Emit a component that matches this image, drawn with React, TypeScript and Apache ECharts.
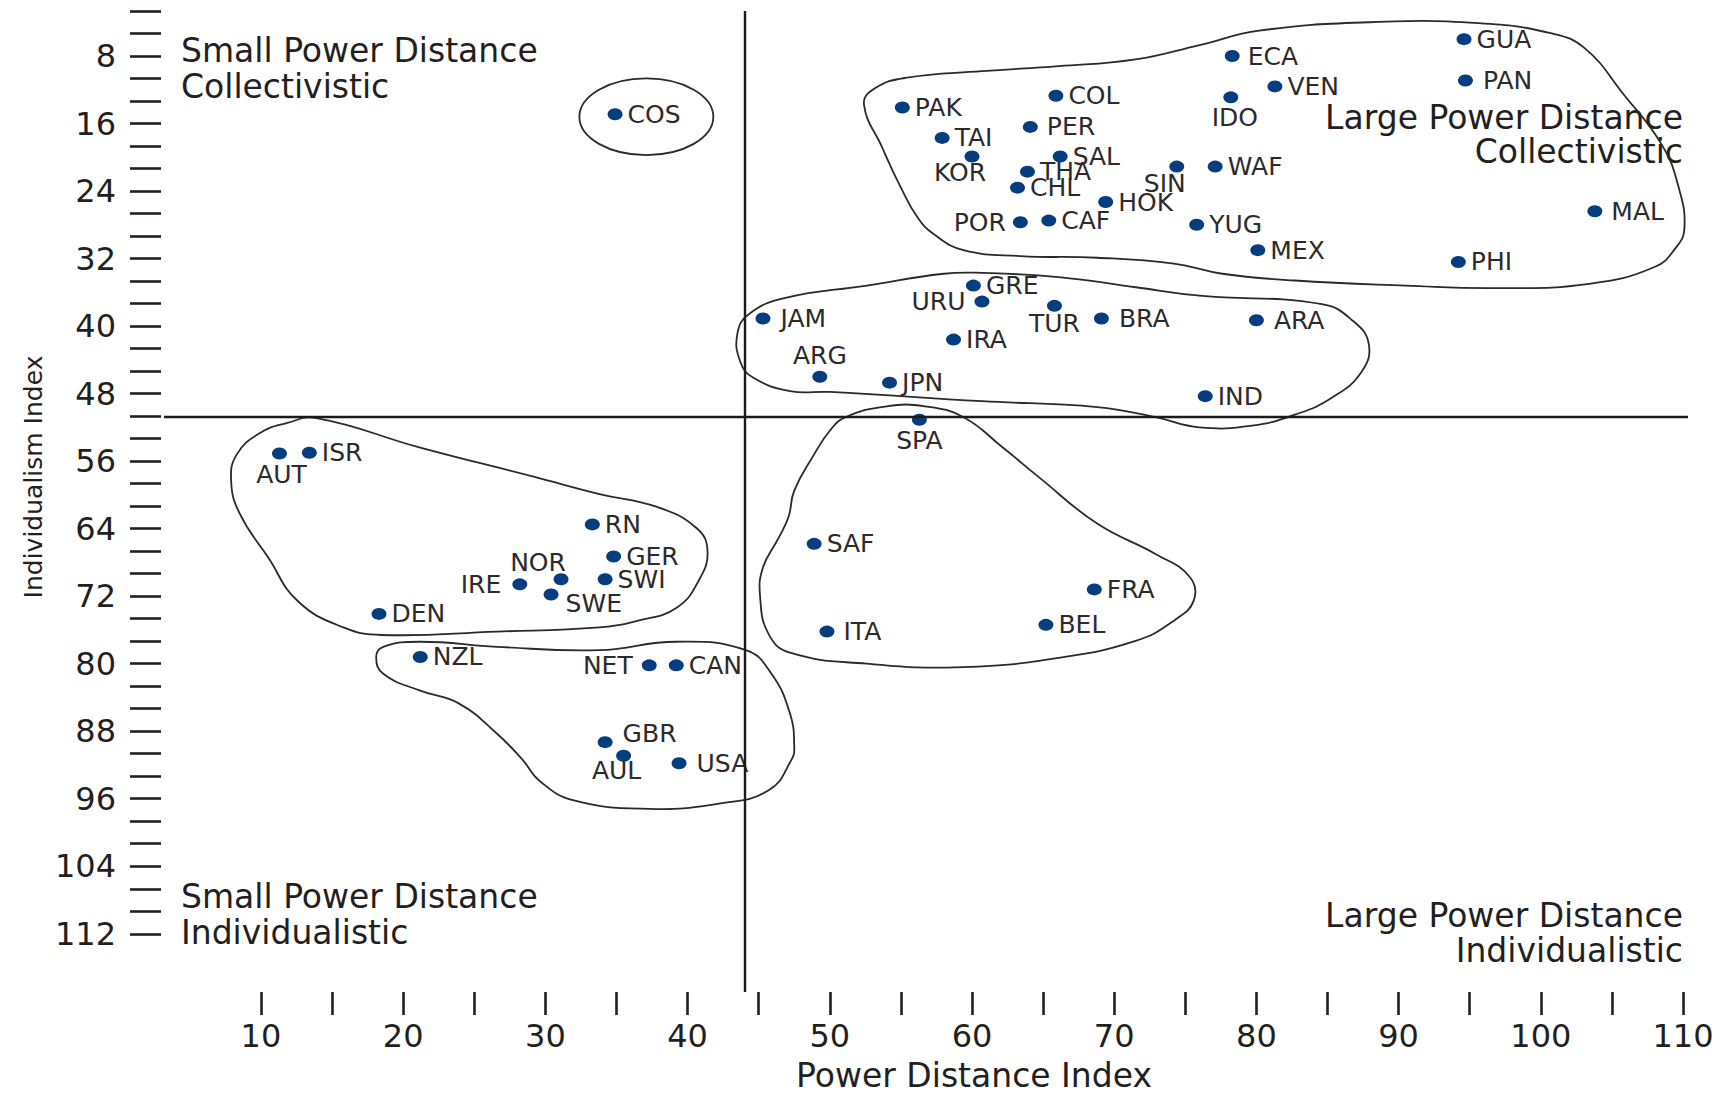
import React, { useEffect, useRef } from "react";
import * as echarts from "echarts";

// ---------- data ----------
const countries = [
  "GUA", "ECA", "PAN", "VEN", "IDO", "COL", "COS", "PAK", "PER", "TAI",
  "KOR", "SAL", "THA", "SIN", "WAF", "CHL", "HOK", "MAL", "POR", "CAF",
  "YUG", "MEX", "PHI", "GRE", "URU", "TUR", "JAM", "BRA", "ARA", "IRA",
  "ARG", "JPN", "IND", "SPA", "AUT", "ISR", "RN", "GER", "NOR", "SWI",
  "IRE", "SWE", "DEN", "FRA", "BEL", "SAF", "ITA", "NZL", "NET", "CAN",
  "GBR", "AUL", "USA",
];
const powerDistance = [
  94.6, 78.3, 94.7, 81.3, 78.2, 65.9, 34.9, 55.1, 64.1, 57.9,
  60.0, 66.2, 63.9, 74.4, 77.1, 63.2, 69.4, 103.8, 63.4, 65.4,
  75.8, 80.1, 94.2, 60.1, 60.7, 65.8, 45.3, 69.1, 80.0, 58.7,
  49.3, 54.2, 76.4, 56.3, 11.3, 13.4, 33.3, 34.8, 31.1, 34.2,
  28.2, 30.4, 18.3, 68.6, 65.2, 48.9, 49.8, 21.2, 37.3, 39.2,
  34.2, 35.5, 39.4,
];
const individualism = [
  6.0, 8.0, 10.9, 11.6, 12.9, 12.7, 14.9, 14.1, 16.4, 17.7,
  19.9, 19.9, 21.7, 21.1, 21.1, 23.6, 25.3, 26.4, 27.7, 27.5,
  28.0, 31.0, 32.4, 35.2, 37.1, 37.6, 39.1, 39.1, 39.3, 41.6,
  46.0, 46.7, 48.3, 51.1, 55.1, 55.0, 63.5, 67.3, 70.0, 70.0,
  70.6, 71.8, 74.1, 71.2, 75.4, 65.8, 76.2, 79.2, 80.2, 80.2,
  89.3, 90.9, 91.8,
];

const xTicks = [10, 15, 20, 25, 30, 35, 40, 45, 50, 55, 60, 65, 70, 75, 80, 85, 90, 95, 100, 105, 110];
const xTickLabels = [10, 20, 30, 40, 50, 60, 70, 80, 90, 100, 110];
const yTickLabels = [8, 16, 24, 32, 40, 48, 56, 64, 72, 80, 88, 96, 104, 112];
const yMinorStep = 8 / 3;
const yTicks = Array.from({ length: 42 }, (_, k) => (k + 1) * yMinorStep);

const quadrantX = 44;
const quadrantY = 50.8;

// group outlines (in index units)
const groupLargePDCollectivist: [number, number][] = [
  [52.4, 13.7], [53.2, 11.8], [55.3, 10.6], [60.7, 9.8], [66.1, 9.2], [71.5, 8.4],
  [76.0, 6.7], [80.2, 5.0], [87.9, 4.0], [95.6, 4.1], [100.7, 5.3], [103.1, 7.1],
  [105.8, 12.5], [108.5, 18.5], [109.7, 23.6], [110.1, 28.4], [109.5, 30.7],
  [108.0, 33.0], [103.4, 35.0], [96.9, 35.5], [90.5, 35.2], [82.7, 34.6],
  [77.6, 33.8], [74.2, 32.6], [68.8, 31.9], [63.4, 31.7], [59.4, 31.0],
  [57.3, 29.1], [56.2, 27.2], [55.0, 23.6], [53.7, 18.9],
];
const groupMiddle: [number, number][] = [
  [44.3, 38.6], [46.8, 36.7], [52.6, 35.2], [58.0, 33.8], [60.7, 33.7], [66.1, 34.2],
  [71.5, 35.4], [76.0, 36.4], [84.6, 37.4], [86.8, 39.4], [87.9, 42.1], [87.4, 45.4],
  [85.3, 48.5], [82.7, 50.5], [79.7, 51.8], [76.0, 52.0], [72.9, 50.8], [68.8, 49.6],
  [60.7, 48.9], [50.0, 47.8], [47.2, 47.7], [44.6, 46.1], [43.7, 44.2], [43.5, 40.9],
];
const groupLatinEurope: [number, number][] = [
  [51.1, 50.8], [54.0, 49.5], [56.7, 49.5], [59.4, 50.8], [62.1, 54.3], [64.7, 57.9],
  [68.8, 63.4], [72.9, 67.0], [75.3, 69.7], [75.6, 72.5], [74.2, 74.9], [71.5, 77.3],
  [66.1, 79.3], [59.4, 80.4], [52.6, 80.0], [47.2, 78.7], [45.7, 76.5], [45.1, 72.1],
  [45.3, 68.6], [46.4, 65.1], [47.1, 62.6], [47.5, 59.5], [48.9, 55.2], [50.0, 52.4],
];
const groupGermanicNordic: [number, number][] = [
  [13.9, 50.9], [21.2, 54.4], [29.3, 57.9], [33.8, 59.9], [37.8, 61.4], [40.6, 63.9],
  [41.4, 66.6], [40.8, 70.1], [39.2, 73.4], [36.5, 74.9], [33.8, 75.7], [26.6, 76.2],
  [18.5, 76.6], [15.8, 75.7], [12.6, 72.6], [10.5, 67.4], [8.5, 62.2], [7.9, 58.3],
  [8.3, 55.2], [9.9, 52.7], [11.8, 51.5],
];
const groupAnglo: [number, number][] = [
  [18.6, 78.0], [21.2, 77.4], [26.6, 78.0], [33.8, 78.4], [39.2, 77.4], [44.1, 78.4],
  [45.9, 81.2], [47.2, 85.9], [47.5, 89.8], [47.3, 91.4], [45.7, 95.0], [42.1, 96.6],
  [37.3, 97.2], [32.0, 96.2], [29.6, 93.9], [28.4, 91.4], [26.6, 88.3], [23.9, 84.7],
  [21.2, 83.2], [18.6, 81.2], [18.1, 79.2],
];
const groupCostaRica = { cx: 37.1, cy: 15.2, rx: 4.71, ry: 4.54 };

const groups = [groupLargePDCollectivist, groupMiddle, groupLatinEurope, groupGermanicNordic, groupAnglo];

// ---------- styles ----------
const FONT = "DejaVu Sans";
const INK = "#231f20";
const DOT = "#063d7e";

type Place = { pos: string; dist?: number; dx?: number; dy?: number };
const labelPlace: Record<string, Place> = {
  IDO: { pos: "bottom", dx: 4, dy: -3 },
  KOR: { pos: "bottom", dx: -12, dy: -7 },
  SIN: { pos: "bottom", dx: -12, dy: -7 },
  TUR: { pos: "bottom", dy: -6 },
  SPA: { pos: "bottom", dy: -3 },
  AUT: { pos: "bottom", dx: 2, dy: -3 },
  AUL: { pos: "bottom", dx: -7, dy: -9 },
  ARG: { pos: "top", dy: 2 },
  NOR: { pos: "top", dx: -23, dy: 7 },
  GBR: { pos: "right", dist: 10, dy: -9 },
  SWE: { pos: "right", dist: 7, dy: 9 },
  POR: { pos: "left", dist: 7 },
  URU: { pos: "left", dist: 9 },
  IRE: { pos: "left", dist: 11 },
  NET: { pos: "left", dist: 9 },
  JAM: { pos: "right", dist: 10 },
  BRA: { pos: "right", dist: 10 },
  ARA: { pos: "right", dist: 10 },
  PAN: { pos: "right", dist: 10 },
  PER: { pos: "right", dist: 9 },
  MAL: { pos: "right", dist: 9 },
  USA: { pos: "right", dist: 10 },
  ITA: { pos: "right", dist: 9 },
  ECA: { pos: "right", dist: 8 },
};

function labelFor(name: string) {
  const p = labelPlace[name] || { pos: "right", dist: 5 };
  return {
    show: true,
    position: p.pos,
    distance: p.dist ?? 5,
    offset: [p.dx ?? 0, p.dy ?? 0],
  };
}

export default function App() {
  const ref = useRef<HTMLDivElement>(null);

  useEffect(() => {
    if (!ref.current) return;
    const chart = echarts.init(ref.current, undefined, { renderer: "svg" });

    const points = countries.map((c, i) => ({
      name: c,
      value: [powerDistance[i], individualism[i]],
      label: labelFor(c),
    }));

    const quadText = (text: string, x: number, y: number, align: string) => ({
      type: "text",
      x,
      y,
      silent: true,
      style: {
        text,
        fill: INK,
        font: `33px "${FONT}"`,
        textAlign: align,
        textVerticalAlign: "middle",
      },
    });

    const option: any = {
      animation: false,
      backgroundColor: "#ffffff",
      textStyle: { fontFamily: FONT },
      grid: {
        left: 164,
        right: 34,
        top: 11,
        bottom: 104,
        containLabel: false,
        outerBoundsMode: "none",
      },
      xAxis: {
        type: "value",
        min: 3.18,
        max: 110.35,
        position: "bottom",
        axisLine: { show: false },
        splitLine: { show: false },
        axisTick: {
          show: true,
          length: 23,
          customValues: xTicks,
          lineStyle: { color: INK, width: 2.6 },
        },
        axisLabel: {
          customValues: xTickLabels,
          margin: 28,
          fontSize: 32,
          color: INK,
          fontFamily: FONT,
        },
      },
      yAxis: {
        type: "value",
        inverse: true,
        min: yMinorStep,
        max: 118.9,
        offset: 3,
        axisLine: { show: false },
        splitLine: { show: false },
        axisTick: {
          show: true,
          length: 31,
          customValues: yTicks,
          lineStyle: { color: INK, width: 2.6 },
        },
        axisLabel: {
          customValues: yTickLabels,
          margin: 45,
          fontSize: 32,
          color: INK,
          fontFamily: FONT,
        },
      },
      graphic: [
        quadText("Small Power Distance", 181, 50, "left"),
        quadText("Collectivistic", 181, 86, "left"),
        quadText("Large Power Distance", 1683, 117, "right"),
        quadText("Collectivistic", 1683, 151, "right"),
        quadText("Small Power Distance", 181, 896, "left"),
        quadText("Individualistic", 181, 932, "left"),
        quadText("Large Power Distance", 1683, 915, "right"),
        quadText("Individualistic", 1683, 950, "right"),
        {
          type: "text",
          x: 974,
          y: 1075,
          silent: true,
          style: {
            text: "Power Distance Index",
            fill: INK,
            font: `33px "${FONT}"`,
            textAlign: "center",
            textVerticalAlign: "middle",
          },
        },
        {
          type: "text",
          x: 33,
          y: 477,
          rotation: Math.PI / 2,
          silent: true,
          style: {
            text: "Individualism Index",
            fill: INK,
            font: `25px "${FONT}"`,
            textAlign: "center",
            textVerticalAlign: "middle",
          },
        },
      ],
      series: [
        {
          type: "custom",
          coordinateSystem: "cartesian2d",
          silent: true,
          z: 1,
          encode: { x: 0, y: 1 },
          data: groups.map((g) => [g[0][0], g[0][1]]),
          renderItem: (params: any, api: any) => {
            const pts = groups[params.dataIndex].map((p) => api.coord(p));
            return {
              type: "polygon",
              shape: { points: pts, smooth: 0.45 },
              style: { fill: "none", stroke: "#2a2a2a", lineWidth: 1.8 },
              silent: true,
            };
          },
        },
        {
          type: "custom",
          coordinateSystem: "cartesian2d",
          silent: true,
          z: 1,
          encode: { x: 0, y: 1 },
          data: [[groupCostaRica.cx, groupCostaRica.cy]],
          renderItem: (params: any, api: any) => {
            const c = api.coord([groupCostaRica.cx, groupCostaRica.cy]);
            const s = api.size([groupCostaRica.rx, groupCostaRica.ry]);
            return {
              type: "ellipse",
              shape: { cx: c[0], cy: c[1], rx: s[0], ry: s[1] },
              style: { fill: "none", stroke: "#2a2a2a", lineWidth: 1.8 },
              silent: true,
            };
          },
        },
        {
          type: "scatter",
          z: 3,
          symbol: "circle",
          symbolSize: [15, 12],
          itemStyle: { color: DOT, opacity: 1 },
          label: {
            show: true,
            formatter: "{b}",
            fontSize: 25,
            color: "#2d2a2b",
            fontFamily: FONT,
          },
          emphasis: { disabled: true },
          data: points,
          markLine: {
            silent: true,
            symbol: "none",
            animation: false,
            label: { show: false },
            lineStyle: { color: "#1a1a1a", width: 2.4, type: "solid" },
            data: [{ xAxis: quadrantX }, { yAxis: quadrantY }],
          },
        },
      ],
    };

    chart.setOption(option);
    return () => chart.dispose();
  }, []);

  return (
    <div
      ref={ref}
      style={{ position: "absolute", left: 0, top: 0, width: 1722, height: 1096, background: "#fff" }}
    />
  );
}
